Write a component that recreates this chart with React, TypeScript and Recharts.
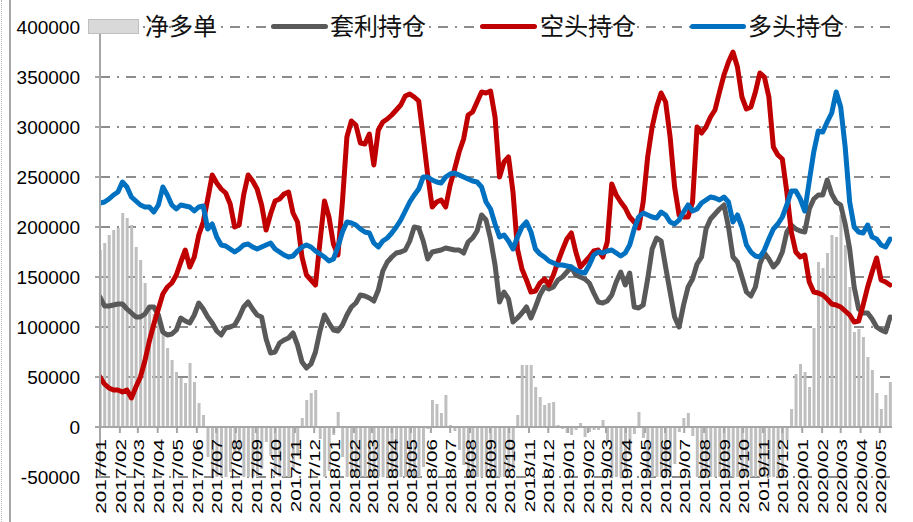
import React from 'react';
import { ComposedChart, Bar, Line, XAxis, YAxis, CartesianGrid, ReferenceLine } from 'recharts';

// 多头持仓 (weekly)
const longPos = [
  224000,225000,228000,232000,235000,245000,240000,230000,226000,222000,
  220000,220000,215000,222000,240000,232000,222000,218000,222000,221000,
  220000,216000,220000,221000,198000,203000,190000,182000,181000,178000,
  175000,178000,182000,183000,180000,178000,180000,182000,184000,178000,
  175000,172000,170000,171000,176000,180000,182000,180000,176000,173000,
  170000,166000,168000,180000,195000,205000,204000,202000,198000,195000,
  194000,184000,180000,186000,189000,194000,200000,207000,216000,225000,
  232000,238000,250000,250000,247000,245000,244000,250000,253000,254000,
  252000,250000,248000,246000,245000,240000,225000,218000,203000,190000,
  192000,186000,178000,190000,200000,205000,195000,178000,173000,170000,
  166000,164000,162000,162000,161000,160000,157000,155000,154000,162000,
  172000,175000,174000,176000,177000,174000,171000,174000,182000,198000,
  210000,214000,212000,210000,209000,215000,212000,205000,203000,207000,
  215000,222000,216000,218000,224000,227000,230000,229000,227000,230000,
  225000,205000,212000,200000,182000,175000,171000,170000,177000,188000,
  198000,203000,210000,222000,236000,236000,228000,216000,246000,275000,
  296000,295000,305000,314000,335000,320000,280000,225000,200000,195000,
  194000,202000,190000,188000,182000,180000,188000,
];

// 空头持仓 (weekly)
const shortPos = [
  50000,43000,39000,37000,37000,35000,37000,29000,40000,50000,
  66000,86000,103000,118000,133000,140000,144000,152000,165000,177000,
  160000,170000,192000,205000,228000,252000,244000,238000,234000,223000,
  200000,202000,232000,252000,246000,238000,222000,197000,213000,226000,
  228000,233000,235000,214000,205000,170000,152000,147000,142000,185000,
  226000,210000,183000,172000,225000,290000,306000,302000,284000,283000,
  293000,262000,297000,305000,308000,312000,317000,322000,331000,333000,
  330000,326000,290000,252000,220000,225000,227000,220000,242000,258000,
  275000,288000,312000,315000,325000,335000,334000,336000,310000,250000,
  265000,270000,235000,178000,158000,147000,135000,136000,144000,148000,
  142000,152000,165000,177000,188000,194000,175000,160000,165000,170000,
  176000,177000,170000,185000,243000,232000,225000,219000,210000,205000,
  199000,225000,270000,300000,320000,334000,325000,290000,240000,212000,
  210000,210000,225000,300000,294000,300000,310000,317000,335000,352000,
  365000,375000,360000,330000,318000,320000,335000,354000,350000,330000,
  280000,272000,268000,235000,195000,175000,170000,172000,145000,135000,
  134000,132000,128000,123000,122000,120000,116000,112000,105000,106000,
  122000,140000,155000,169000,147000,145000,142000,
];

// 套利持仓 (weekly)
const arbPos = [
  130000,121000,121000,122000,123000,123000,118000,114000,110000,110000,
  113000,120000,120000,112000,95000,92000,93000,97000,109000,106000,
  104000,112000,124000,118000,110000,104000,96000,92000,99000,100000,
  102000,110000,120000,125000,118000,112000,110000,88000,74000,75000,
  84000,87000,89000,94000,82000,65000,59000,63000,75000,96000,
  112000,104000,97000,96000,102000,112000,120000,124000,132000,131000,
  129000,126000,137000,156000,165000,170000,174000,175000,177000,186000,
  200000,199000,186000,168000,175000,176000,177000,179000,178000,177000,
  177000,174000,185000,189000,196000,212000,207000,188000,162000,125000,
  135000,128000,105000,109000,114000,120000,109000,120000,132000,140000,
  138000,140000,147000,150000,155000,160000,152000,150000,148000,144000,
  134000,125000,124000,126000,132000,145000,155000,142000,154000,120000,
  119000,122000,148000,178000,189000,186000,160000,135000,110000,100000,
  122000,140000,148000,163000,170000,198000,208000,213000,218000,222000,
  200000,170000,165000,150000,135000,131000,140000,163000,174000,168000,
  160000,165000,175000,195000,202000,198000,196000,195000,218000,228000,
  232000,232000,247000,233000,225000,222000,203000,178000,140000,118000,
  114000,114000,108000,100000,97000,95000,110000,
];

// 净多单 (weekly)
const netLong = [
  177000,184000,192000,197000,199000,214000,209000,202000,180000,167000,
  144000,120000,113000,107000,95000,79000,67000,55000,49000,44000,
  64000,45000,24000,12000,-30000,-49000,-54000,-56000,-53000,-45000,
  -25000,-24000,-50000,-69000,-66000,-60000,-42000,-15000,-29000,-48000,
  -53000,-61000,-65000,-43000,-29000,9000,27000,34000,37000,-12000,
  -56000,-44000,-8000,15000,-30000,-85000,-100000,-98000,-90000,-92000,
  -100000,-80000,-105000,-115000,-118000,-118000,-117000,-115000,-115000,-108000,
  -98000,-88000,-40000,-2000,27000,23000,14000,32000,2000,-4000,
  -23000,-38000,-64000,-69000,-80000,-95000,-109000,-118000,-107000,-60000,
  -74000,-84000,-42000,12000,62000,62000,62000,40000,30000,22000,
  24000,25000,2000,-2000,-6000,-8000,-3000,4000,-10000,-5000,
  -3000,-3000,7000,-14000,-66000,-58000,-54000,-45000,-28000,-7000,
  15000,-11000,-58000,-90000,-111000,-119000,-113000,-85000,-37000,-5000,
  9000,14000,-9000,-82000,-70000,-73000,-80000,-88000,-108000,-122000,
  -140000,-170000,-148000,-130000,-136000,-145000,-164000,-184000,-173000,-142000,
  -82000,-69000,-58000,-13000,18000,53000,63000,55000,40000,99000,
  165000,159000,174000,192000,190000,212000,182000,140000,95000,98000,
  90000,70000,57000,34000,18000,32000,45000,
];

const monthLabels = [
  '2017/01','2017/02','2017/03','2017/04','2017/05','2017/06','2017/07','2017/08','2017/09','2017/10','2017/11','2017/12',
  '2018/01','2018/02','2018/03','2018/04','2018/05','2018/06','2018/07','2018/08','2018/09','2018/10','2018/11','2018/12',
  '2019/01','2019/02','2019/03','2019/04','2019/05','2019/06','2019/07','2019/08','2019/09','2019/10','2019/11','2019/12',
  '2020/01','2020/02','2020/03','2020/04','2020/05',
];

const yTicks = [-50000, 0, 50000, 100000, 150000, 200000, 250000, 300000, 350000, 400000];

const seriesNames = { net: '净多单', arb: '套利持仓', short: '空头持仓', long: '多头持仓' };

const START = Date.UTC(2017, 0, 6);
const DAY_MS = 86400000;
const tickDays = monthLabels.map((l) => {
  const [y, m] = l.split('/').map(Number);
  return Math.round((Date.UTC(y, m - 1, 6) - START) / DAY_MS);
});
const labelByDay = new Map<number, string>(tickDays.map((d, k) => [d, monthLabels[k]]));

const data = longPos.map((v, i) => ({
  day: i * 7,
  long: v,
  short: shortPos[i],
  arb: arbPos[i],
  net: netLong[i],
}));

const XTick = (props: any) => {
  const { x, y, payload } = props;
  const label = labelByDay.get(payload.value) ?? '';
  const zeroY = y - 50;
  return (
    <g>
      <line x1={x} x2={x} y1={zeroY} y2={zeroY + 6} stroke="#a6a6a6" strokeWidth={2} />
      <text
        transform={`translate(${x + 1}, ${zeroY + 12}) rotate(-90) scale(1.5, 1)`}
        textAnchor="end"
        dy="0.36em"
        fontSize={13.8}
        fontFamily="'Liberation Sans', Arial, sans-serif"
        fill="#000"
      >
        {label}
      </text>
    </g>
  );
};

const legendText: React.CSSProperties = {
  position: 'absolute',
  top: 8,
  height: 34,
  lineHeight: '34px',
  fontSize: 24,
  fontFamily: "'Noto Sans CJK SC', sans-serif",
  color: '#111',
  whiteSpace: 'nowrap',
};

const LegendOverlay = () => (
  <div style={{ position: 'absolute', left: 0, top: 0, width: 913, height: 0 }}>
    <div style={{ position: 'absolute', left: 88, top: 19, width: 51, height: 15, background: '#d9d9d9', border: '1px solid #bfbfbf', boxSizing: 'border-box' }} />
    <div style={{ ...legendText, left: 145 }}>{seriesNames.net}</div>
    <div style={{ position: 'absolute', left: 271, top: 24, width: 57, height: 5, background: '#595959', borderRadius: 3 }} />
    <div style={{ ...legendText, left: 330 }}>{seriesNames.arb}</div>
    <div style={{ position: 'absolute', left: 480, top: 24, width: 57, height: 5, background: '#c00000', borderRadius: 3 }} />
    <div style={{ ...legendText, left: 540 }}>{seriesNames.short}</div>
    <div style={{ position: 'absolute', left: 690, top: 24, width: 56, height: 5, background: '#0070c0', borderRadius: 3 }} />
    <div style={{ ...legendText, left: 748 }}>{seriesNames.long}</div>
  </div>
);

export default function App() {
  return (
    <div style={{ position: 'absolute', left: 0, top: 0, width: 913, height: 522, background: '#fff', overflow: 'hidden' }}>
      <div style={{ position: 'absolute', left: 1, top: 0, height: 522, borderLeft: '1px dotted #b5b5b5' }} />
      <div style={{ position: 'absolute', left: 9, top: 0, width: 2, height: 522, background: '#a6a6a6' }} />
      <ComposedChart width={913} height={522} data={data} margin={{ top: 27, right: 21, bottom: 0, left: 0 }}>
        <CartesianGrid vertical={false} stroke="#8c8c8c" strokeWidth={1.8} strokeDasharray="10 7 2 7" />
        <Bar dataKey="net" name={seriesNames.net} fill="#bfbfbf" barSize={3} isAnimationActive={false} />
        <ReferenceLine y={0} stroke="#a6a6a6" strokeWidth={2} />
        <Line type="linear" dataKey="arb" name={seriesNames.arb} stroke="#595959" strokeWidth={5} dot={false} strokeLinejoin="round" strokeLinecap="round" isAnimationActive={false} />
        <Line type="linear" dataKey="short" name={seriesNames.short} stroke="#c00000" strokeWidth={5} dot={false} strokeLinejoin="round" strokeLinecap="round" isAnimationActive={false} />
        <Line type="linear" dataKey="long" name={seriesNames.long} stroke="#0070c0" strokeWidth={5} dot={false} strokeLinejoin="round" strokeLinecap="round" isAnimationActive={false} />
        <XAxis
          dataKey="day"
          type="number"
          domain={[0, 1235]}
          allowDataOverflow
          ticks={tickDays}
          interval={0}
          height={45}
          axisLine={false}
          tickLine={false}
          tickSize={0}
          tickMargin={0}
          tick={<XTick />}
        />
        <YAxis
          type="number"
          domain={[-50000, 400000]}
          allowDataOverflow
          ticks={yTicks}
          interval={0}
          width={100}
          tickSize={5}
          tickMargin={15}
          axisLine={{ stroke: '#a6a6a6', strokeWidth: 2 }}
          tickLine={{ stroke: '#a6a6a6', strokeWidth: 2 }}
          tick={{ fontSize: 19, fill: '#000', fontFamily: "'Liberation Sans', Arial, sans-serif" }}
        />
      </ComposedChart>
      <LegendOverlay />
    </div>
  );
}
